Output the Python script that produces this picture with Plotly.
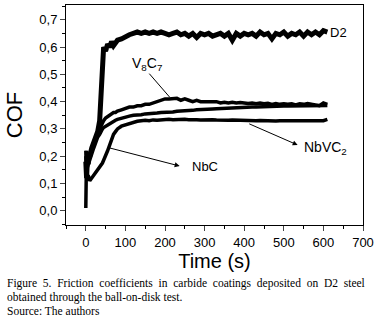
import plotly.graph_objects as go

# ---- data ----
time_s = [0, 2, 4, 6, 8, 10, 15, 20, 25, 30, 35, 38, 40, 42, 45, 50, 55, 60, 65, 70, 75, 80, 90, 100,
          110, 120, 130, 140, 150, 160, 170, 180, 190, 200,
          210, 220, 230, 240, 250, 260, 270, 280, 290, 300,
          310, 320, 330, 340, 350, 360, 370, 380, 390, 400,
          410, 420, 430, 440, 450, 460, 470, 480, 490, 500,
          510, 520, 530, 540, 550, 560, 570, 580, 590, 600, 610]

cof_D2 = [0.18, 0.12, 0.19, 0.17, 0.21, 0.2, 0.23, 0.25, 0.27, 0.29, 0.33, 0.42, 0.52, 0.58, 0.6, 0.585,
          0.61, 0.6, 0.62, 0.605, 0.62, 0.625, 0.63, 0.64,
          0.645, 0.65, 0.655, 0.65, 0.655, 0.65, 0.655, 0.65, 0.655, 0.65,
          0.645, 0.65, 0.655, 0.645, 0.65, 0.64, 0.65, 0.635, 0.65, 0.645,
          0.65, 0.64, 0.645, 0.65, 0.64, 0.65, 0.625, 0.65, 0.64, 0.65,
          0.645, 0.65, 0.64, 0.655, 0.645, 0.65, 0.63, 0.65, 0.645, 0.655,
          0.64, 0.65, 0.645, 0.655, 0.64, 0.655, 0.645, 0.655, 0.645, 0.66, 0.655]

cof_V8C7 = [0.2, 0.14, 0.17, 0.19, 0.2, 0.21, 0.23, 0.25, 0.27, 0.29, 0.3, 0.31, 0.32, 0.325, 0.33, 0.34,
            0.345, 0.35, 0.355, 0.36, 0.36, 0.365, 0.37, 0.375,
            0.38, 0.38, 0.385, 0.385, 0.39, 0.39, 0.395, 0.4, 0.405, 0.41,
            0.41, 0.41, 0.412, 0.405, 0.41, 0.405, 0.4, 0.405, 0.4, 0.4,
            0.4, 0.398, 0.4, 0.395, 0.398, 0.395, 0.398, 0.395, 0.397, 0.395,
            0.393, 0.395, 0.392, 0.395, 0.392, 0.394, 0.39, 0.393, 0.39, 0.392,
            0.39, 0.392, 0.388, 0.392, 0.39, 0.393, 0.39, 0.388, 0.385, 0.395, 0.39]

cof_NbC = [0.22, 0.15, 0.16, 0.17, 0.18, 0.19, 0.21, 0.23, 0.25, 0.27, 0.28, 0.29, 0.295, 0.3, 0.305, 0.31,
           0.315, 0.32, 0.325, 0.33, 0.332, 0.335, 0.34, 0.345,
           0.347, 0.35, 0.35, 0.352, 0.355, 0.355, 0.357, 0.358, 0.36, 0.36,
           0.362, 0.362, 0.365, 0.365, 0.367, 0.368, 0.368, 0.37, 0.37, 0.372,
           0.372, 0.373, 0.374, 0.375, 0.376, 0.376, 0.377, 0.378, 0.378, 0.379,
           0.38, 0.38, 0.38, 0.381, 0.382, 0.382, 0.382, 0.383, 0.383, 0.384,
           0.384, 0.384, 0.385, 0.385, 0.385, 0.385, 0.386, 0.386, 0.386, 0.386, 0.386]

cof_NbVC2 = [0.01, 0.22, 0.12, 0.13, 0.12, 0.11, 0.12, 0.13, 0.14, 0.15, 0.16, 0.165, 0.17, 0.175, 0.185, 0.2,
             0.22, 0.24, 0.26, 0.28, 0.29, 0.3, 0.31, 0.315,
             0.32, 0.325, 0.328, 0.33, 0.332, 0.33, 0.333, 0.332, 0.334, 0.333,
             0.335, 0.334, 0.335, 0.334, 0.335, 0.334, 0.335, 0.334, 0.333, 0.334,
             0.333, 0.334, 0.333, 0.332, 0.333, 0.332, 0.333, 0.332, 0.331, 0.332,
             0.33, 0.331, 0.33, 0.331, 0.33, 0.329, 0.33, 0.329, 0.33, 0.33,
             0.329, 0.33, 0.329, 0.33, 0.33, 0.329, 0.33, 0.33, 0.331, 0.33, 0.335]

x_ticks = [0, 100, 200, 300, 400, 500, 600, 700]
y_ticks = [0.0, 0.1, 0.2, 0.3, 0.4, 0.5, 0.6, 0.7]
y_tick_text = ["0,0", "0,1", "0,2", "0,3", "0,4", "0,5", "0,6", "0,7"]

caption_lines = [
    "Figure 5. Friction coefficients in carbide coatings deposited on D2 steel",
    "obtained through the ball-on-disk test.",
    "Source: The authors",
]

# ---- figure ----
W, H = 377, 322
ml, mr, mt, mb = 66, 14, 5, 97
ph = H - mt - mb
pw = W - ml - mr

fig = go.Figure()
series = [(cof_NbVC2, 3.5), (cof_NbC, 3.5), (cof_V8C7, 3.5), (cof_D2, 5)]
for vals, w in series:
    fig.add_trace(go.Scatter(x=time_s, y=vals, mode="lines",
                             line=dict(color="black", width=w), showlegend=False,
                             hoverinfo="skip"))

lab_font = dict(family="Liberation Sans, Arial", size=13, color="black")

annotations = [
    dict(x=639, y=0.655, text="D2", showarrow=False, xanchor="center", yanchor="middle", font=lab_font),
    dict(x=154, y=0.537, text="V<sub>8</sub>C<sub>7</sub>", showarrow=False,
         font=dict(family="Liberation Sans, Arial", size=14, color="black")),
    dict(x=300, y=0.163, text="NbC", showarrow=False, font=lab_font),
    dict(x=606, y=0.229, text="NbVC<sub>2</sub>", showarrow=False,
         font=dict(family="Liberation Sans, Arial", size=14, color="black")),
    dict(x=212, y=0.416, ax=157, ay=0.508, axref="x", ayref="y", xref="x", yref="y",
         text="", showarrow=True, arrowhead=0, arrowwidth=1, arrowcolor="black"),
    dict(x=237, y=0.164, ax=53, ay=0.233, axref="x", ayref="y", xref="x", yref="y",
         text="", showarrow=True, arrowhead=2, arrowsize=1, arrowwidth=1, arrowcolor="black"),
    dict(x=535, y=0.241, ax=409, ay=0.321, axref="x", ayref="y", xref="x", yref="y",
         text="", showarrow=True, arrowhead=2, arrowsize=1, arrowwidth=1, arrowcolor="black"),
]
for i, line in enumerate(caption_lines):
    txt = line.replace(" ", "\u00a0 ") if i == 0 else line
    annotations.append(dict(x=(5 - ml) / pw, y=(H - mb - (283 + 14 * i)) / ph,
                            xref="paper", yref="paper", text=txt,
                            showarrow=False, xanchor="left", yanchor="middle",
                            font=dict(family="Liberation Serif, Times New Roman", size=11.5, color="black")))

fig.update_layout(
    width=W, height=H,
    margin=dict(l=ml, r=mr, t=mt, b=mb, autoexpand=False),
    paper_bgcolor="white", plot_bgcolor="white",
    annotations=annotations,
    font=dict(family="Liberation Sans, Arial", color="black"),
)
fig.update_xaxes(range=[-50, 700], tickvals=x_ticks, ticks="outside", ticklen=5, tickwidth=1,
                 showline=True, linecolor="black", linewidth=1, mirror=True, showgrid=False,
                 zeroline=False, tickfont=dict(size=13), automargin=False,
                 minor=dict(dtick=50, tick0=0, ticks="outside", ticklen=3, tickcolor="black", showgrid=False),
                 title=dict(text="Time (s)", font=dict(size=20), standoff=2))
fig.update_yaxes(range=[-0.052, 0.754], tickvals=y_ticks, ticktext=y_tick_text, ticks="outside",
                 ticklen=5, tickwidth=1, showline=True, linecolor="black", linewidth=1, mirror=True,
                 showgrid=False, zeroline=False, tickfont=dict(size=13), automargin=False,
                 minor=dict(dtick=0.05, tick0=0, ticks="outside", ticklen=3, tickcolor="black", showgrid=False),
                 title=dict(text="COF", font=dict(size=22), standoff=10))

fig.write_html("out.html", config={"displayModeBar": False},
               post_script="document.body.style.margin='0';document.body.style.overflow='hidden';")
